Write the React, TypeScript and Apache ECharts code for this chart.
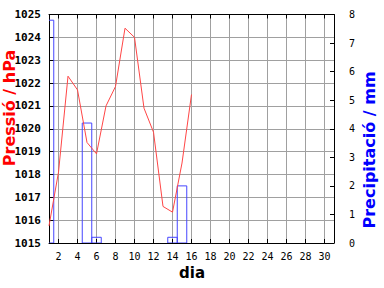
import React, { useEffect, useRef } from "react";
import * as echarts from "echarts";

const days = [
  "1", "2", "3", "4", "5", "6", "7", "8", "9", "10",
  "11", "12", "13", "14", "15", "16", "17", "18", "19", "20",
  "21", "22", "23", "24", "25", "26", "27", "28", "29", "30", "31",
];
const pressure = [
  1015.75, 1018.1, 1022.3, 1021.7, 1019.4, 1018.9, 1021.0, 1021.85,
  1024.4, 1024.0, 1020.9, 1019.85, 1016.6, 1016.35, 1018.5, 1021.5,
];
const precipDays = [1, 5, 6, 14, 15];
const precipValues = [7.8, 4.2, 0.2, 0.2, 2.0];

const isEven = (i: number) => (i + 1) % 2 === 0;
const MONO = "DejaVu Sans Mono";

export default function App() {
  const ref = useRef<HTMLDivElement>(null);
  useEffect(() => {
    if (!ref.current) return;
    const chart = echarts.init(ref.current, null, { renderer: "svg" });
    const barData = precipDays.map((d, i) => [d - 1, precipValues[i]]);
    chart.setOption({
      animation: false,
      backgroundColor: "#fff",
      grid: { left: 49, right: 50, top: 14.5, bottom: 45, containLabel: false },
      xAxis: [
        {
          type: "category",
          data: days,
          boundaryGap: false,
          position: "bottom",
          axisLine: { onZero: false, lineStyle: { color: "#000", width: 1 } },
          axisTick: { inside: true, length: 4, interval: (i: number) => isEven(i), lineStyle: { color: "#000" } },
          axisLabel: { interval: (i: number) => isEven(i), margin: 8, fontFamily: MONO, fontSize: 10, color: "#000" },
          splitLine: { show: true, interval: (i: number) => isEven(i), lineStyle: { color: "#a0a0a0", width: 1 } },
        },
        {
          type: "category",
          data: days,
          boundaryGap: false,
          position: "top",
          axisLine: { onZero: false, lineStyle: { color: "#000", width: 1 } },
          axisTick: { inside: true, length: 4, interval: (i: number) => isEven(i), lineStyle: { color: "#000" } },
          axisLabel: { show: false },
          splitLine: { show: false },
        },
      ],
      yAxis: [
        {
          type: "value",
          min: 1015,
          max: 1025,
          interval: 1,
          position: "left",
          axisLine: { show: true, onZero: false, lineStyle: { color: "#000", width: 1 } },
          axisTick: { show: true, inside: true, length: 5, lineStyle: { color: "#000" } },
          axisLabel: {
            margin: 8,
            fontFamily: MONO,
            fontSize: 11,
            fontWeight: "bold",
            color: "#000",
            formatter: (v: number) => String(v),
          },
          splitLine: { show: true, lineStyle: { color: "#a0a0a0", width: 1 } },
        },
        {
          type: "value",
          min: 0,
          max: 8,
          interval: 1,
          position: "right",
          axisLine: { show: true, onZero: false, lineStyle: { color: "#000", width: 1 } },
          axisTick: { show: true, inside: true, length: 4, lineStyle: { color: "#000" } },
          axisLabel: { margin: 15, fontFamily: MONO, fontSize: 10, color: "#000" },
          splitLine: { show: false },
        },
      ],
      series: [
        {
          type: "custom",
          xAxisIndex: 0,
          yAxisIndex: 1,
          clip: true,
          encode: { x: 0, y: 1 },
          data: barData,
          z: 2,
          renderItem: (params: any, api: any) => {
            const idx = api.value(0);
            const v = api.value(1);
            const p0 = api.coord([idx, 0]);
            const p1 = api.coord([idx, v]);
            const w = api.size([1, 0])[0];
            return {
              type: "rect",
              shape: { x: p0[0] - w / 2, y: p1[1], width: w, height: p0[1] - p1[1] },
              style: { fill: "none", stroke: "#4646ff", lineWidth: 1 },
            };
          },
        },
        {
          type: "line",
          xAxisIndex: 0,
          yAxisIndex: 0,
          data: pressure,
          symbol: "none",
          lineStyle: { color: "#ff4646", width: 1 },
          z: 3,
        },
      ],
      graphic: [
        {
          type: "text",
          x: 9,
          y: 108,
          rotation: Math.PI / 2,
          style: {
            text: "Pressió / hPa",
            x: 0,
            y: 0,
            align: "center",
            verticalAlign: "middle",
            font: "bold 16px 'DejaVu Sans'",
            fill: "#ff0000",
          },
        },
        {
          type: "text",
          x: 369,
          y: 150,
          rotation: Math.PI / 2,
          style: {
            text: "Precipitació / mm",
            x: 0,
            y: 0,
            align: "center",
            verticalAlign: "middle",
            font: "bold 16px 'DejaVu Sans'",
            fill: "#0000ff",
          },
        },
        {
          type: "text",
          x: 192,
          y: 273,
          style: {
            text: "dia",
            x: 0,
            y: 0,
            align: "center",
            verticalAlign: "middle",
            font: "bold 15px 'DejaVu Sans'",
            fill: "#000",
          },
        },
      ],
    });
    return () => chart.dispose();
  }, []);
  return (
    <div
      ref={ref}
      style={{ position: "fixed", left: 0, top: 0, width: 384, height: 288, background: "#fff" }}
    />
  );
}
